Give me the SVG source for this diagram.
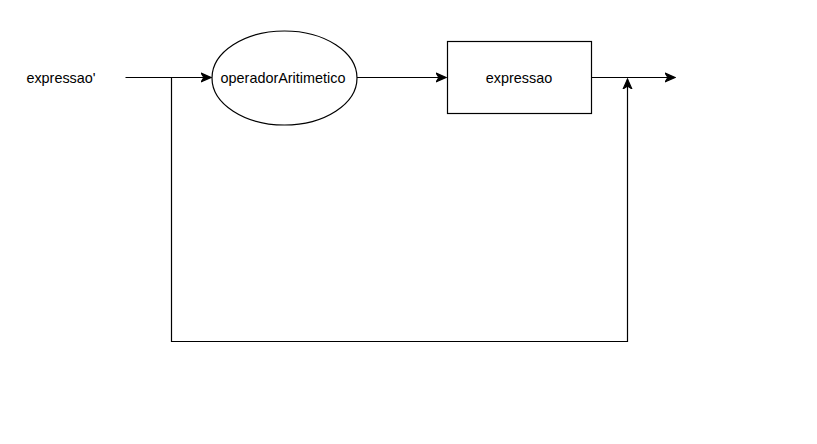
<svg xmlns="http://www.w3.org/2000/svg" width="817" height="444" viewBox="0 0 817 444">
  <style>
    .shape { fill: #ffffff; stroke: #000000; stroke-width: 1.2; }
    .edge { fill: none; stroke: #000000; stroke-width: 1.2; }
    .label { font-family: "Liberation Sans", Arial, sans-serif; font-size: 14.4px; fill: #000000; text-anchor: middle; dominant-baseline: central; }
  </style>
  <defs>
    <marker id="arrow" viewBox="0 0 10 10" refX="9" refY="5" markerWidth="11" markerHeight="11" markerUnits="userSpaceOnUse" orient="auto">
      <path d="M0,1 L9,5 L0,9 L2.5,5 Z" fill="#000000" stroke="#000000" stroke-width="1"/>
    </marker>
  </defs>
  <rect width="817" height="444" fill="#ffffff"/>

  <g id="connectors">
    <path class="edge" d="M125.5,77.5 H211" marker-end="url(#arrow)"/>
    <path class="edge" d="M357,77.5 H446" marker-end="url(#arrow)"/>
    <path class="edge" d="M591,77.5 H675" marker-end="url(#arrow)"/>
    <path class="edge" d="M171.5,77.5 V341.5 H627.5 V79" marker-end="url(#arrow)"/>
  </g>

  <g id="start">
    <text class="label" x="61" y="77.5">expressao'</text>
  </g>

  <g id="operadorAritimetico">
    <ellipse class="shape" cx="284.5" cy="78" rx="72.5" ry="47"/>
    <text class="label" x="283" y="77.5">operadorAritimetico</text>
  </g>

  <g id="expressao">
    <rect class="shape" x="447.5" y="41.5" width="144" height="72"/>
    <text class="label" x="519" y="77.5">expressao</text>
  </g>
</svg>
